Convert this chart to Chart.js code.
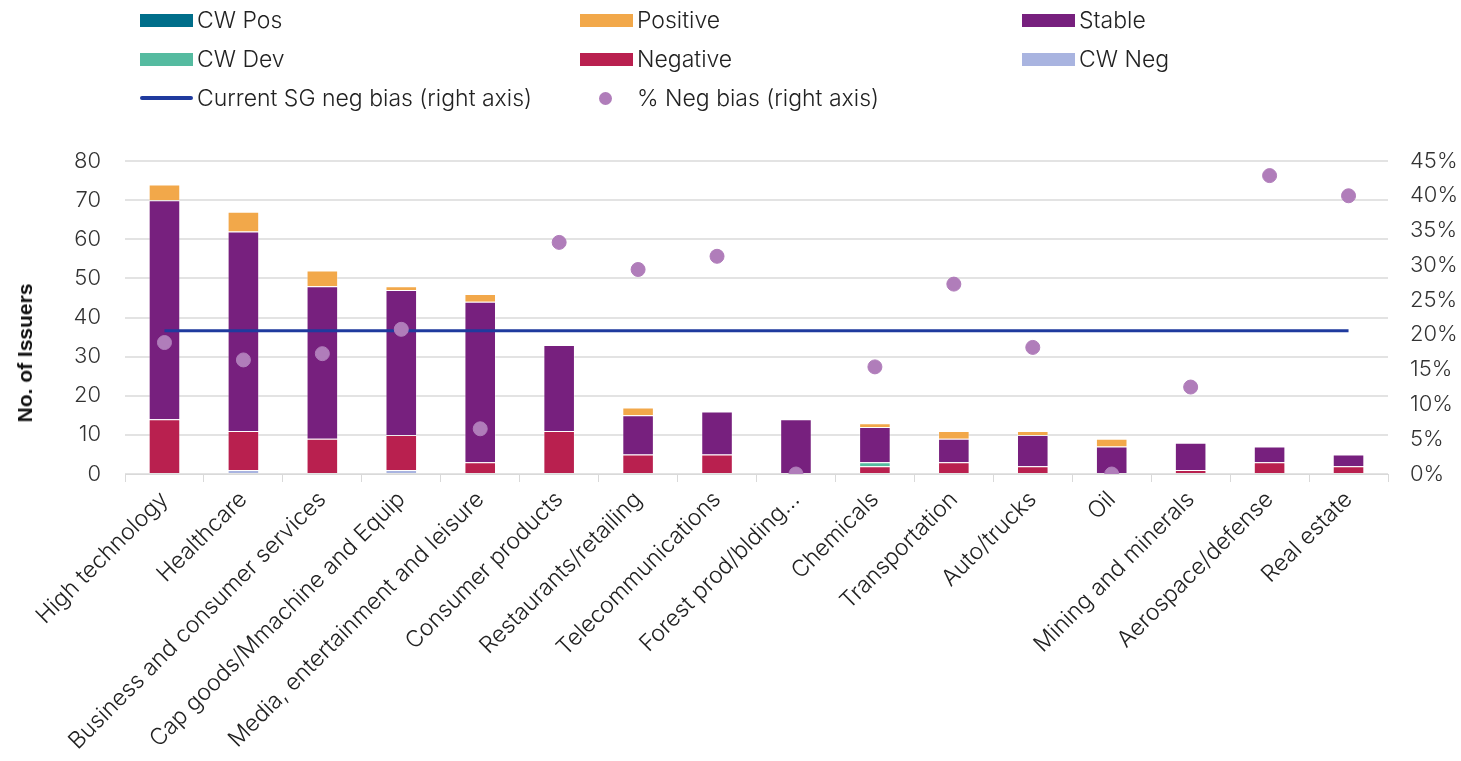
<!DOCTYPE html>
<html>
<head>
<meta charset="utf-8">
<script src="https://cdn.jsdelivr.net/npm/chart.js@4/dist/chart.umd.min.js"></script>
<style>
  html, body { margin: 0; padding: 0; background: #fff; }
  #wrap { position: relative; width: 1461px; height: 761px; font-family: Inter, Roboto, sans-serif; font-weight: 300; color: #222; }
  #chart { position: absolute; left: 0; top: 0; }
  .lg { position: absolute; font-size: 23px; line-height: 26px; white-space: nowrap; }
  .lg .sw { position: absolute; left: 0; top: 7px; width: 53px; height: 13px; }
  .lg .ln { position: absolute; left: 0; top: 11px; width: 53px; height: 4px; border-radius: 2px; }
  .lg .dot { position: absolute; left: 19px; top: 7px; width: 13px; height: 13px; border-radius: 50%; }
  .lg span { position: absolute; left: 57px; top: 0; }
  #ytitle { position: absolute; left: 25px; top: 353px; transform: translate(-50%, -50%) rotate(-90deg);
    font-family: "Liberation Sans", Arial, sans-serif; font-weight: bold; font-size: 21px; color: #111; white-space: nowrap; }
</style>
</head>
<body>
<div id="wrap">
  <canvas id="chart" width="1461" height="761"></canvas>
  <div id="legend"></div>
  <div id="ytitle">No. of Issuers</div>
</div>
<script>
const categories = [
  "High technology", "Healthcare", "Business and consumer services", "Cap goods/Mmachine and Equip",
  "Media, entertainment and leisure", "Consumer products", "Restaurants/retailing", "Telecommunications",
  "Forest prod/blding\u2026", "Chemicals", "Transportation", "Auto/trucks", "Oil",
  "Mining and minerals", "Aerospace/defense", "Real estate"
];

// issuer counts per outlook bucket
const cwNeg    = [0, 1, 0, 1, 0, 0, 0, 0, 0, 0, 0, 0, 0, 0, 0, 0];
const negative = [14, 10, 9, 9, 3, 11, 5, 5, 0, 2, 3, 2, 0, 1, 3, 2];
const cwDev    = [0, 0, 0, 0, 0, 0, 0, 0, 0, 1, 0, 0, 0, 0, 0, 0];
const stable   = [56, 51, 39, 37, 41, 22, 10, 11, 14, 9, 6, 8, 7, 7, 4, 3];
const positive = [4, 5, 4, 1, 2, 0, 2, 0, 0, 1, 2, 1, 2, 0, 0, 0];
const cwPos    = [0, 0, 0, 0, 0, 0, 0, 0, 0, 0, 0, 0, 0, 0, 0, 0];

// right axis, percent
const negBiasPct = [18.9, 16.4, 17.3, 20.8, 6.5, 33.3, 29.4, 31.3, 0, 15.4, 27.3, 18.2, 0, 12.5, 42.9, 40.0];
const currentSgNegBias = 20.6;

const leftTicks = [0, 10, 20, 30, 40, 50, 60, 70, 80];
const rightTicks = [0, 5, 10, 15, 20, 25, 30, 35, 40, 45];

const COLORS = {
  cwPos: "#006E8A",
  positive: "#F2A84A",
  stable: "#77207E",
  cwDev: "#55BBA0",
  negative: "#B9204F",
  cwNeg: "#A9B4E0",
  line: "#1F3A9E",
  dot: "#B07DBA"
};

// legend, three columns
const legendItems = [
  { x: 140, y: 7, kind: "sw", color: COLORS.cwPos, text: "CW Pos" },
  { x: 580, y: 7, kind: "sw", color: COLORS.positive, text: "Positive" },
  { x: 1022, y: 7, kind: "sw", color: COLORS.stable, text: "Stable" },
  { x: 140, y: 46, kind: "sw", color: COLORS.cwDev, text: "CW Dev" },
  { x: 580, y: 46, kind: "sw", color: COLORS.negative, text: "Negative" },
  { x: 1022, y: 46, kind: "sw", color: COLORS.cwNeg, text: "CW Neg" },
  { x: 140, y: 85, kind: "ln", color: COLORS.line, text: "Current SG neg bias (right axis)" },
  { x: 580, y: 85, kind: "dot", color: COLORS.dot, text: "% Neg bias (right axis)" }
];
const legendEl = document.getElementById("legend");
legendItems.forEach(it => {
  const d = document.createElement("div");
  d.className = "lg";
  d.style.left = it.x + "px";
  d.style.top = it.y + "px";
  d.innerHTML = '<div class="' + it.kind + '" style="background:' + it.color + '"></div><span>' + it.text + '</span>';
  legendEl.appendChild(d);
});

const tickFont = { family: "Inter", size: 21, weight: 300 };
const barCommon = {
  type: "bar",
  yAxisID: "y",
  stack: "s",
  barPercentage: 0.4,
  categoryPercentage: 1.0,
  borderWidth: 1,
  borderColor: "rgba(255,255,255,0.35)",
  order: 2
};

new Chart(document.getElementById("chart").getContext("2d"), {
  data: {
    labels: categories,
    datasets: [
      { ...barCommon, label: "CW Neg", data: cwNeg, backgroundColor: COLORS.cwNeg },
      { ...barCommon, label: "Negative", data: negative, backgroundColor: COLORS.negative },
      { ...barCommon, label: "CW Dev", data: cwDev, backgroundColor: COLORS.cwDev },
      { ...barCommon, label: "Stable", data: stable, backgroundColor: COLORS.stable },
      { ...barCommon, label: "Positive", data: positive, backgroundColor: COLORS.positive },
      { ...barCommon, label: "CW Pos", data: cwPos, backgroundColor: COLORS.cwPos },
      {
        type: "line",
        label: "Current SG neg bias (right axis)",
        data: categories.map(() => currentSgNegBias),
        yAxisID: "y1",
        borderColor: COLORS.line,
        borderWidth: 3,
        pointRadius: 0,
        fill: false,
        order: 1
      },
      {
        type: "scatter",
        label: "% Neg bias (right axis)",
        data: negBiasPct,
        yAxisID: "y1",
        showLine: false,
        backgroundColor: COLORS.dot,
        borderColor: COLORS.dot,
        pointRadius: 7,
        order: 0
      }
    ]
  },
  options: {
    responsive: false,
    animation: false,
    layout: { padding: { top: 161, left: 0, right: 0, bottom: 0 } },
    plugins: { legend: { display: false }, tooltip: { enabled: false } },
    scales: {
      x: {
        type: "category",
        offset: true,
        stacked: true,
        grid: { offset: true, drawOnChartArea: false, drawTicks: true, tickLength: 8, color: "#d9d9d9" },
        border: { color: "#d9d9d9" },
        ticks: { color: "#222", font: { family: "Inter", size: 23, weight: 300 }, minRotation: 45, maxRotation: 45, autoSkip: false, padding: 4 },
        afterFit: s => { s.height = 287; }
      },
      y: {
        position: "left",
        stacked: true,
        min: 0, max: 80,
        afterBuildTicks: s => { s.ticks = leftTicks.map(v => ({ value: v })); },
        grid: { color: "#e3e3e3", lineWidth: 2, drawTicks: false },
        border: { display: false },
        ticks: { color: "#333", font: { family: "Inter", size: 22, weight: 300 }, padding: 24 },
        afterFit: s => { s.width = 125; }
      },
      y1: {
        position: "right",
        min: 0, max: 45,
        afterBuildTicks: s => { s.ticks = rightTicks.map(v => ({ value: v })); },
        grid: { display: false, drawTicks: false },
        border: { display: false },
        ticks: { color: "#333", font: { family: "Inter", size: 22, weight: 300 }, padding: 22, callback: v => v + "%" },
        afterFit: s => { s.width = 73; }
      }
    }
  }
});
</script>
</body>
</html>
